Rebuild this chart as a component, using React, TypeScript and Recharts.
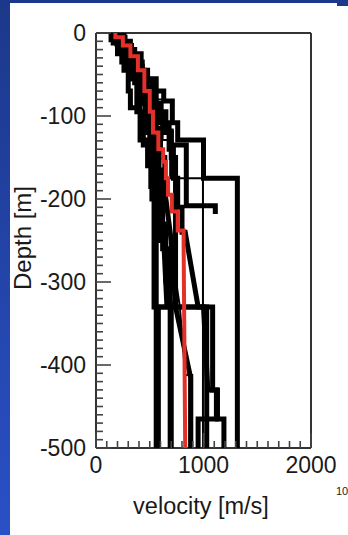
import { ScatterChart, Scatter, XAxis, YAxis } from "recharts";

// velocity profiles: [velocity m/s, depth m] vertices, step-shaped
const profileA: [number, number][] = [
  [250, 0], [250, -10], [320, -10], [320, -25], [420, -25], [420, -45], [480, -45], [480, -55],
  [560, -55], [560, -70], [630, -70], [630, -82], [710, -82], [710, -108], [760, -108], [760, -129],
  [1000, -129], [1000, -175], [1315, -175], [1315, -500],
];
const profileB: [number, number][] = [
  [220, 0], [220, -12], [300, -12], [300, -30], [380, -30], [380, -52], [470, -52], [470, -75],
  [560, -75], [560, -100], [620, -100], [620, -120], [700, -120], [700, -135], [840, -135],
  [840, -208], [1110, -208], [1110, -218],
];
const profileC: [number, number][] = [
  [140, 0], [140, -8], [200, -8], [200, -25], [260, -25], [260, -45], [300, -45], [300, -70],
  [320, -70], [320, -90], [410, -90], [410, -129], [480, -129], [480, -160], [520, -160],
  [520, -200], [540, -200], [540, -330], [1085, -330], [1085, -430], [1130, -430], [1130, -465],
  [1190, -465], [1190, -500],
];
const profileD: [number, number][] = [
  [170, 0], [170, -6], [230, -6], [230, -20], [300, -20], [300, -40], [360, -40], [360, -60],
  [400, -60], [400, -85], [460, -85], [460, -110], [500, -110], [500, -140], [540, -140],
  [540, -175], [560, -175], [560, -500],
];
const profileE: [number, number][] = [
  [190, 0], [190, -10], [260, -10], [260, -30], [340, -30], [340, -55], [420, -55], [420, -80],
  [480, -80], [480, -120], [530, -120], [530, -150], [580, -150], [580, -200], [620, -200],
  [620, -260], [690, -260], [690, -500],
];
const profileF: [number, number][] = [
  [200, 0], [200, -5], [270, -5], [270, -20], [350, -20], [350, -40], [430, -40], [430, -65],
  [500, -65], [500, -90], [560, -90], [560, -115], [600, -115], [600, -150], [640, -150],
  [640, -190], [700, -250], [740, -330], [880, -415], [880, -500],
];
const profileG: [number, number][] = [
  [230, 0], [230, -15], [330, -15], [330, -35], [430, -35], [430, -58], [520, -58], [520, -85],
  [600, -85], [600, -108], [680, -108], [680, -140], [720, -140], [720, -175], [760, -175],
  [760, -210], [800, -210], [800, -240], [830, -240], [950, -330], [1000, -330], [1040, -430],
  [1120, -430], [1120, -465], [950, -465], [950, -500],
];
const profileH: [number, number][] = [
  [260, 0], [260, -20], [360, -20], [360, -45], [450, -45], [450, -65], [540, -65], [540, -95],
  [650, -95], [650, -118], [700, -118], [700, -150], [740, -150], [740, -330], [1030, -330],
  [1030, -500],
];
const profileI: [number, number][] = [
  [210, 0], [210, -18], [310, -18], [310, -38], [400, -38], [400, -58], [460, -58], [460, -90],
  [520, -90], [520, -125], [570, -125], [570, -165], [610, -165], [610, -230], [650, -230],
  [650, -300], [700, -330], [700, -500],
];
const profileJ: [number, number][] = [
  [160, 0], [160, -12], [240, -12], [240, -35], [320, -35], [320, -55], [380, -55], [380, -95],
  [440, -95], [440, -135], [510, -135], [510, -185], [590, -185], [590, -250], [630, -250],
  [660, -330], [580, -330], [580, -500],
];
const thinA: [number, number][] = [
  [200, 0], [200, -15], [290, -15], [290, -40], [380, -40], [380, -62], [430, -62], [430, -80],
  [620, -80], [620, -129], [690, -129], [690, -175], [995, -175], [995, -500],
];
const thinB: [number, number][] = [
  [180, 0], [180, -15], [280, -15], [280, -40], [380, -40], [380, -70], [470, -70], [470, -100],
  [540, -100], [540, -140], [600, -140], [600, -200], [660, -200], [700, -260], [780, -330],
  [830, -412], [895, -412], [895, -500],
];
const redProfile: [number, number][] = [
  [180, 0], [180, -5], [250, -5], [250, -15], [320, -15], [320, -28], [390, -28], [390, -45],
  [450, -45], [450, -70], [500, -70], [500, -95], [530, -95], [530, -120], [580, -120],
  [580, -140], [625, -140], [625, -155], [650, -155], [650, -175], [670, -175], [670, -195],
  [705, -195], [705, -215], [760, -215], [760, -238], [815, -238], [815, -255], [830, -500],
];

const thickProfiles = [
  profileA, profileB, profileC, profileD, profileE, profileF, profileG, profileH, profileI, profileJ,
];
const thinProfiles = [thinA, thinB];

const depthLabels = [0, -100, -200, -300, -400, -500];
const velocityLabels = [0, 1000, 2000];

const font = "'Liberation Sans', Arial, Helvetica, sans-serif";
const toPts = (a: [number, number][]) => a.map(([v, d]) => ({ v, d }));

const depthTicks: number[] = [];
for (let d = 0; d >= -500; d -= 10) depthTicks.push(d);
const velTicks: number[] = [];
for (let v = 0; v <= 2000; v += 100) velTicks.push(v);

const noDot = () => <g />;

function depthTick(side: "left" | "right") {
  return (props: any) => {
    const { x, y, payload } = props;
    const major = depthLabels.includes(payload.value);
    const dir = side === "left" ? 1 : -1;
    return (
      <g>
        <line x1={x} y1={y} x2={x + dir * (major ? 15 : 7)} y2={y} stroke="#444" strokeWidth={1.6} />
        {side === "left" && major && (
          <text x={x - 10} y={y + 8} textAnchor="end" fontSize={23} fontFamily={font} fill="#1a1a1a">
            {payload.value}
          </text>
        )}
      </g>
    );
  };
}

function velTick(side: "top" | "bottom") {
  return (props: any) => {
    const { x, y, payload } = props;
    const major = velocityLabels.includes(payload.value);
    const dir = side === "top" ? 1 : -1;
    return (
      <g>
        <line x1={x} y1={y} x2={x} y2={y + dir * (major ? 15 : 7)} stroke="#444" strokeWidth={1.6} />
        {side === "bottom" && major && (
          <text x={x} y={y + 25} textAnchor="middle" fontSize={23} fontFamily={font} fill="#1a1a1a">
            {payload.value}
          </text>
        )}
      </g>
    );
  };
}

export default function App() {
  return (
    <div style={{ position: "absolute", left: 0, top: 0, width: 348, height: 535, background: "#fff" }}>
      <ScatterChart width={348} height={535} margin={{ top: 0, right: 0, bottom: 0, left: 0 }}>
        <XAxis
          xAxisId={0}
          type="number"
          dataKey="v"
          domain={[0, 2000]}
          ticks={velTicks}
          interval={0}
          height={87}
          tickSize={0}
          tickMargin={0}
          tickLine={false}
          axisLine={{ stroke: "#333", strokeWidth: 2 }}
          tick={velTick("bottom")}
        />
        <XAxis
          xAxisId="top"
          orientation="top"
          type="number"
          domain={[0, 2000]}
          ticks={velTicks}
          interval={0}
          height={33}
          tickSize={0}
          tickMargin={0}
          tickLine={false}
          axisLine={{ stroke: "#333", strokeWidth: 2 }}
          tick={velTick("top")}
        />
        <YAxis
          yAxisId={0}
          type="number"
          dataKey="d"
          domain={[-500, 0]}
          ticks={depthTicks}
          interval={0}
          width={96}
          tickSize={0}
          tickMargin={0}
          tickLine={false}
          axisLine={{ stroke: "#333", strokeWidth: 2 }}
          tick={depthTick("left")}
        />
        <YAxis
          yAxisId="right"
          orientation="right"
          type="number"
          domain={[-500, 0]}
          ticks={depthTicks}
          interval={0}
          width={37}
          tickSize={0}
          tickMargin={0}
          tickLine={false}
          axisLine={{ stroke: "#333", strokeWidth: 2 }}
          tick={depthTick("right")}
        />
        {thickProfiles.map((p, i) => (
          <Scatter
            key={"k" + i}
            data={toPts(p)}
            line={{ stroke: "#000", strokeWidth: 5 }}
            lineType="joint"
            shape={noDot}
            isAnimationActive={false}
          />
        ))}
        {thinProfiles.map((p, i) => (
          <Scatter
            key={"t" + i}
            data={toPts(p)}
            line={{ stroke: "#000", strokeWidth: 2 }}
            lineType="joint"
            shape={noDot}
            isAnimationActive={false}
          />
        ))}
        <Scatter
          data={toPts(redProfile)}
          line={{ stroke: "#e3312a", strokeWidth: 4 }}
          lineType="joint"
          shape={noDot}
          isAnimationActive={false}
        />
        <text
          x={22}
          y={238}
          transform="rotate(-90 22 238)"
          textAnchor="middle"
          dominantBaseline="central"
          fontSize={24}
          fontFamily={font}
          fill="#1a1a1a"
        >
          Depth [m]
        </text>
        <text x={201} y={514} textAnchor="middle" fontSize={23.5} fontFamily={font} fill="#1a1a1a">
          velocity [m/s]
        </text>
        <text x={336} y={495} fontSize={11} fontFamily={font} fill="#222">
          10
        </text>
      </ScatterChart>
      <div
        style={{
          position: "absolute",
          left: 0,
          top: 0,
          width: 10,
          height: 535,
          background: "linear-gradient(#1c388a, #2a50c6)",
        }}
      />
      <div style={{ position: "absolute", left: 0, top: 0, width: 337, height: 3, background: "#1c388a" }} />
      <div style={{ position: "absolute", left: 337, top: 0, width: 11, height: 6, background: "#1c388a" }} />
    </div>
  );
}
